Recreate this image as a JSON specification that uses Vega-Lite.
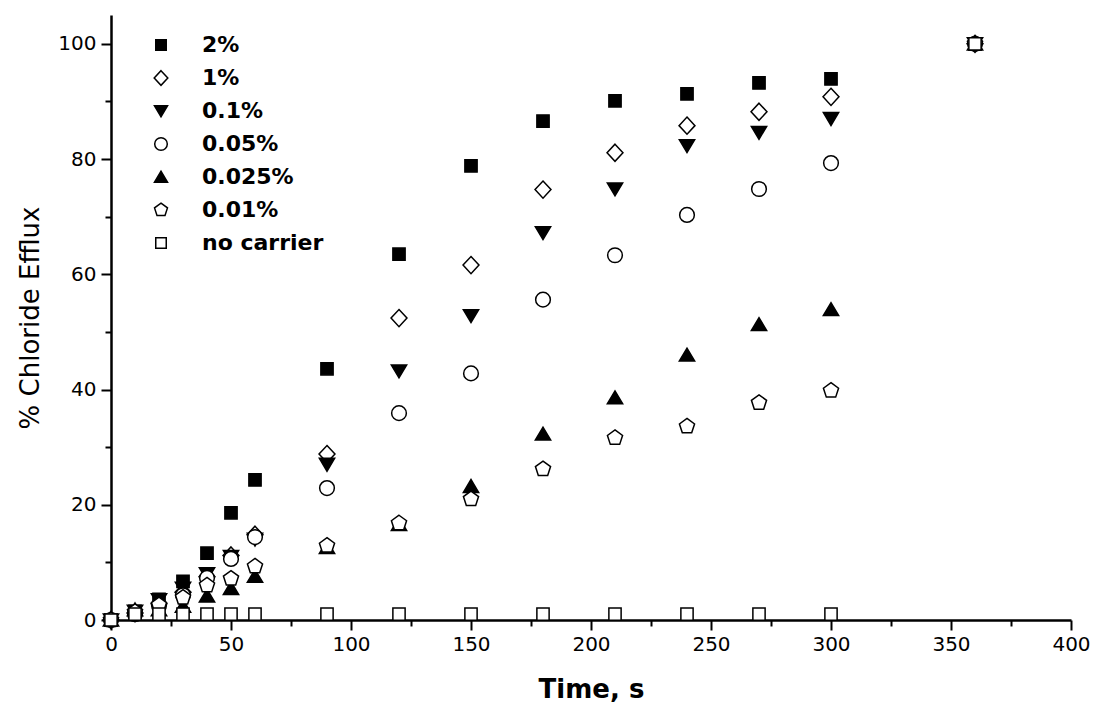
{
  "$schema": "https://vega.github.io/schema/vega-lite/v6.json",
  "width": 960,
  "height": 605,
  "autosize": {"type": "none"},
  "padding": {"left": 111, "top": 15, "right": 24, "bottom": 91},
  "background": "white",
  "config": {
    "view": {"stroke": null},
    "font": "DejaVu Sans",
    "axis": {"grid": false, "domainColor": "black", "domainWidth": 2.5, "tickColor": "black", "tickWidth": 2, "labelColor": "black", "titleColor": "black", "labelFont": "DejaVu Sans", "titleFont": "DejaVu Sans", "labelFontSize": 20, "labelFontWeight": "normal", "labelFlush": false}
  },
  "data": {
    "values": [
      {"t": 0, "v": 0, "s": "2%"}, {"t": 10, "v": 1.5, "s": "2%"}, {"t": 20, "v": 3.6, "s": "2%"}, {"t": 30, "v": 6.7, "s": "2%"}, {"t": 40, "v": 11.6, "s": "2%"}, {"t": 50, "v": 18.6, "s": "2%"}, {"t": 60, "v": 24.3, "s": "2%"}, {"t": 90, "v": 43.6, "s": "2%"}, {"t": 120, "v": 63.5, "s": "2%"}, {"t": 150, "v": 78.8, "s": "2%"}, {"t": 180, "v": 86.6, "s": "2%"}, {"t": 210, "v": 90.1, "s": "2%"}, {"t": 240, "v": 91.3, "s": "2%"}, {"t": 270, "v": 93.2, "s": "2%"}, {"t": 300, "v": 93.9, "s": "2%"}, {"t": 360, "v": 100, "s": "2%"},
      {"t": 0, "v": 0, "s": "1%"}, {"t": 10, "v": 1.2, "s": "1%"}, {"t": 20, "v": 2.8, "s": "1%"}, {"t": 30, "v": 4.8, "s": "1%"}, {"t": 40, "v": 7.5, "s": "1%"}, {"t": 50, "v": 11.2, "s": "1%"}, {"t": 60, "v": 14.8, "s": "1%"}, {"t": 90, "v": 28.8, "s": "1%"}, {"t": 120, "v": 52.4, "s": "1%"}, {"t": 150, "v": 61.6, "s": "1%"}, {"t": 180, "v": 74.7, "s": "1%"}, {"t": 210, "v": 81.1, "s": "1%"}, {"t": 240, "v": 85.8, "s": "1%"}, {"t": 270, "v": 88.2, "s": "1%"}, {"t": 300, "v": 90.8, "s": "1%"}, {"t": 360, "v": 100, "s": "1%"},
      {"t": 0, "v": 0, "s": "0.1%"}, {"t": 10, "v": 1.5, "s": "0.1%"}, {"t": 20, "v": 3.5, "s": "0.1%"}, {"t": 30, "v": 5.5, "s": "0.1%"}, {"t": 40, "v": 8.0, "s": "0.1%"}, {"t": 50, "v": 11.0, "s": "0.1%"}, {"t": 60, "v": 14.0, "s": "0.1%"}, {"t": 90, "v": 27.0, "s": "0.1%"}, {"t": 120, "v": 43.2, "s": "0.1%"}, {"t": 150, "v": 52.8, "s": "0.1%"}, {"t": 180, "v": 67.2, "s": "0.1%"}, {"t": 210, "v": 74.8, "s": "0.1%"}, {"t": 240, "v": 82.3, "s": "0.1%"}, {"t": 270, "v": 84.6, "s": "0.1%"}, {"t": 300, "v": 87.0, "s": "0.1%"}, {"t": 360, "v": 100, "s": "0.1%"},
      {"t": 0, "v": 0, "s": "0.05%"}, {"t": 10, "v": 1.0, "s": "0.05%"}, {"t": 20, "v": 2.5, "s": "0.05%"}, {"t": 30, "v": 4.3, "s": "0.05%"}, {"t": 40, "v": 7.3, "s": "0.05%"}, {"t": 50, "v": 10.6, "s": "0.05%"}, {"t": 60, "v": 14.4, "s": "0.05%"}, {"t": 90, "v": 22.9, "s": "0.05%"}, {"t": 120, "v": 35.9, "s": "0.05%"}, {"t": 150, "v": 42.8, "s": "0.05%"}, {"t": 180, "v": 55.6, "s": "0.05%"}, {"t": 210, "v": 63.3, "s": "0.05%"}, {"t": 240, "v": 70.3, "s": "0.05%"}, {"t": 270, "v": 74.8, "s": "0.05%"}, {"t": 300, "v": 79.3, "s": "0.05%"}, {"t": 360, "v": 100, "s": "0.05%"},
      {"t": 0, "v": 0, "s": "0.025%"}, {"t": 10, "v": 1.8, "s": "0.025%"}, {"t": 20, "v": 1.8, "s": "0.025%"}, {"t": 30, "v": 2.4, "s": "0.025%"}, {"t": 40, "v": 4.2, "s": "0.025%"}, {"t": 50, "v": 5.5, "s": "0.025%"}, {"t": 60, "v": 7.6, "s": "0.025%"}, {"t": 90, "v": 12.6, "s": "0.025%"}, {"t": 120, "v": 16.6, "s": "0.025%"}, {"t": 150, "v": 23.2, "s": "0.025%"}, {"t": 180, "v": 32.3, "s": "0.025%"}, {"t": 210, "v": 38.6, "s": "0.025%"}, {"t": 240, "v": 46.0, "s": "0.025%"}, {"t": 270, "v": 51.3, "s": "0.025%"}, {"t": 300, "v": 53.9, "s": "0.025%"}, {"t": 360, "v": 100, "s": "0.025%"},
      {"t": 0, "v": 0, "s": "0.01%"}, {"t": 10, "v": 1.4, "s": "0.01%"}, {"t": 20, "v": 2.6, "s": "0.01%"}, {"t": 30, "v": 3.9, "s": "0.01%"}, {"t": 40, "v": 6.0, "s": "0.01%"}, {"t": 50, "v": 7.2, "s": "0.01%"}, {"t": 60, "v": 9.3, "s": "0.01%"}, {"t": 90, "v": 12.9, "s": "0.01%"}, {"t": 120, "v": 16.8, "s": "0.01%"}, {"t": 150, "v": 21.0, "s": "0.01%"}, {"t": 180, "v": 26.2, "s": "0.01%"}, {"t": 210, "v": 31.6, "s": "0.01%"}, {"t": 240, "v": 33.6, "s": "0.01%"}, {"t": 270, "v": 37.7, "s": "0.01%"}, {"t": 300, "v": 39.8, "s": "0.01%"}, {"t": 360, "v": 100, "s": "0.01%"},
      {"t": 0, "v": 0, "s": "no carrier"}, {"t": 10, "v": 1.0, "s": "no carrier"}, {"t": 20, "v": 1.0, "s": "no carrier"}, {"t": 30, "v": 1.0, "s": "no carrier"}, {"t": 40, "v": 1.0, "s": "no carrier"}, {"t": 50, "v": 1.0, "s": "no carrier"}, {"t": 60, "v": 1.0, "s": "no carrier"}, {"t": 90, "v": 1.0, "s": "no carrier"}, {"t": 120, "v": 1.0, "s": "no carrier"}, {"t": 150, "v": 1.0, "s": "no carrier"}, {"t": 180, "v": 1.0, "s": "no carrier"}, {"t": 210, "v": 1.0, "s": "no carrier"}, {"t": 240, "v": 1.0, "s": "no carrier"}, {"t": 270, "v": 1.0, "s": "no carrier"}, {"t": 300, "v": 1.0, "s": "no carrier"}, {"t": 360, "v": 100, "s": "no carrier"}
    ]
  },
  "mark": {"type": "point", "filled": true, "strokeWidth": 1.5, "opacity": 1, "size": 150},
  "encoding": {
    "x": {
      "field": "t", "type": "quantitative",
      "scale": {"domain": [0, 400], "nice": false, "zero": false},
      "axis": {
        "values": [0, 25, 50, 75, 100, 125, 150, 175, 200, 225, 250, 275, 300, 325, 350, 375, 400],
        "labelExpr": "datum.value % 50 === 0 ? datum.label : ''",
        "tickSize": {"condition": {"test": "datum.value % 50 === 0", "value": 10}, "value": 6},
        "labelPadding": 4,
        "title": "Time, s", "titleFontSize": 26, "titleFontWeight": "bold", "titlePadding": 22
      }
    },
    "y": {
      "field": "v", "type": "quantitative",
      "scale": {"domain": [0, 105], "nice": false},
      "axis": {
        "values": [0, 10, 20, 30, 40, 50, 60, 70, 80, 90, 100],
        "labelExpr": "datum.value % 20 === 0 ? datum.label : ''",
        "tickSize": {"condition": {"test": "datum.value % 20 === 0", "value": 10}, "value": 6},
        "labelPadding": 5,
        "title": "% Chloride Efflux", "titleFontSize": 26, "titleFontWeight": "normal", "titlePadding": 14
      }
    },
    "shape": {
      "field": "s", "type": "nominal",
      "scale": {
        "domain": ["2%", "1%", "0.1%", "0.05%", "0.025%", "0.01%", "no carrier"],
        "range": [
          "square",
          "M0,-1.4L1.3,0L0,1.4L-1.3,0Z",
          "M-1.25,-1L1.25,-1L0,1.1Z",
          "M1.2,0A1.2,1.2,0,1,1,-1.2,0A1.2,1.2,0,1,1,1.2,0Z",
          "M-1.25,1L1.25,1L0,-1.1Z",
          "M0,-1.3L1.236,-0.402L0.764,1.052L-0.764,1.052L-1.236,-0.402Z",
          "square"
        ]
      },
      "legend": {
        "title": null, "orient": "none", "legendX": 39, "legendY": 19, "padding": 0,
        "labelFontSize": 22, "labelFontWeight": "bold", "labelFont": "DejaVu Sans", "labelColor": "black",
        "symbolSize": 110, "symbolStrokeWidth": 1.5, "labelOffset": 30, "rowPadding": 11
      }
    },
    "fill": {
      "field": "s", "type": "nominal",
      "scale": {
        "domain": ["2%", "1%", "0.1%", "0.05%", "0.025%", "0.01%", "no carrier"],
        "range": ["black", "white", "black", "white", "black", "white", "white"]
      },
      "legend": {
        "title": null, "orient": "none", "legendX": 39, "legendY": 19, "padding": 0,
        "labelFontSize": 22, "labelFontWeight": "bold", "labelFont": "DejaVu Sans", "labelColor": "black",
        "symbolSize": 110, "symbolStrokeWidth": 1.5, "labelOffset": 30, "rowPadding": 11
      }
    },
    "stroke": {
      "field": "s", "type": "nominal",
      "scale": {
        "domain": ["2%", "1%", "0.1%", "0.05%", "0.025%", "0.01%", "no carrier"],
        "range": ["black", "black", "black", "black", "black", "black", "black"]
      },
      "legend": {
        "title": null, "orient": "none", "legendX": 39, "legendY": 19, "padding": 0,
        "labelFontSize": 22, "labelFontWeight": "bold", "labelFont": "DejaVu Sans", "labelColor": "black",
        "symbolSize": 110, "symbolStrokeWidth": 1.5, "labelOffset": 30, "rowPadding": 11
      }
    }
  }
}
